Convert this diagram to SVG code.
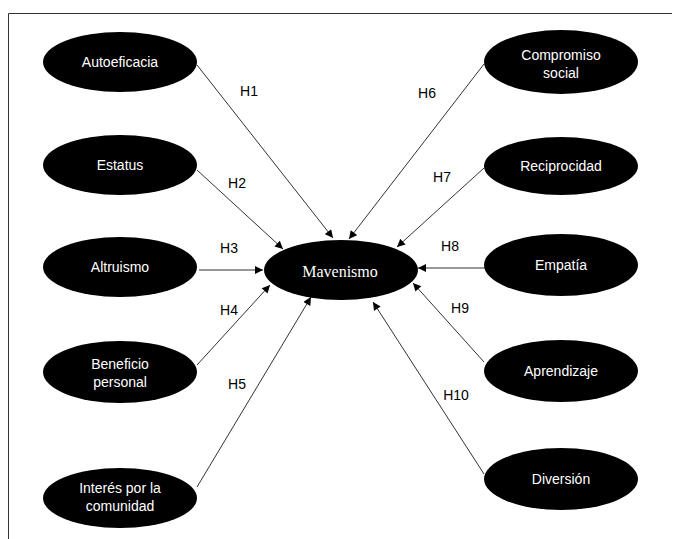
<svg xmlns="http://www.w3.org/2000/svg" width="676" height="539" viewBox="0 0 676 539">
<style>
.n{fill:#000}
.t{fill:#fff;font-family:"Liberation Sans",Arial,sans-serif;font-size:14px;text-anchor:middle;dominant-baseline:central}
.m{fill:#fff;font-family:"Liberation Serif","Times New Roman",serif;font-size:16px;text-anchor:middle;dominant-baseline:central}
.l{fill:#000;font-family:"Liberation Sans",Arial,sans-serif;font-size:14px;text-anchor:middle;dominant-baseline:central}
.c{stroke:#333;stroke-width:1;fill:none;marker-end:url(#ah)}
</style>
<defs>
<marker id="ah" viewBox="0 0 10 10" refX="10" refY="5" markerWidth="9" markerHeight="8" markerUnits="userSpaceOnUse" orient="auto">
<path d="M0,0 L10,5 L0,10 z" fill="#000"/>
</marker>
</defs>
<rect width="676" height="539" fill="#fff"/>
<g id="frame" stroke="#333" stroke-width="1">
<line x1="8.5" y1="13.5" x2="672" y2="13.5"/>
<line x1="8.5" y1="13.5" x2="8.5" y2="539"/>
</g>
<g id="connectors">
<line class="c" x1="197" y1="65" x2="333" y2="238"/>
<line class="c" x1="197" y1="170" x2="283" y2="249"/>
<line class="c" x1="199" y1="270" x2="263" y2="270"/>
<line class="c" x1="197" y1="365" x2="270" y2="285"/>
<line class="c" x1="197" y1="487" x2="311" y2="297"/>
<line class="c" x1="484" y1="64" x2="349" y2="239"/>
<line class="c" x1="484" y1="168" x2="397" y2="247"/>
<line class="c" x1="486" y1="268" x2="418" y2="268"/>
<line class="c" x1="484" y1="362" x2="413" y2="283"/>
<line class="c" x1="484" y1="474" x2="373" y2="302"/>
<text class="l" x="249" y="91">H1</text>
<text class="l" x="237" y="183">H2</text>
<text class="l" x="229" y="248">H3</text>
<text class="l" x="229" y="310">H4</text>
<text class="l" x="237" y="384">H5</text>
<text class="l" x="427" y="93">H6</text>
<text class="l" x="442" y="177">H7</text>
<text class="l" x="450" y="246">H8</text>
<text class="l" x="460" y="308">H9</text>
<text class="l" x="456" y="395">H10</text>
</g>
<g id="mavenismo"><ellipse class="n" cx="341" cy="270" rx="77" ry="30"/><text class="m" x="340" y="271">Mavenismo</text></g>
<g id="autoeficacia"><ellipse class="n" cx="120" cy="62" rx="77" ry="30"/><text class="t" x="120" y="62">Autoeficacia</text></g>
<g id="estatus"><ellipse class="n" cx="120" cy="165" rx="77" ry="30"/><text class="t" x="120" y="165">Estatus</text></g>
<g id="altruismo"><ellipse class="n" cx="120" cy="267" rx="77" ry="30"/><text class="t" x="120" y="267">Altruismo</text></g>
<g id="beneficio"><ellipse class="n" cx="120" cy="372" rx="77" ry="31"/><text class="t" x="120" y="364">Beneficio</text><text class="t" x="120" y="382">personal</text></g>
<g id="interes"><ellipse class="n" cx="120" cy="498" rx="77" ry="30"/><text class="t" x="120" y="488">Interés por la</text><text class="t" x="120" y="506">comunidad</text></g>
<g id="compromiso"><ellipse class="n" cx="561" cy="62" rx="77" ry="32"/><text class="t" x="561" y="55">Compromiso</text><text class="t" x="561" y="73">social</text></g>
<g id="reciprocidad"><ellipse class="n" cx="561" cy="166" rx="77" ry="29"/><text class="t" x="561" y="166">Reciprocidad</text></g>
<g id="empatia"><ellipse class="n" cx="561" cy="265" rx="77" ry="31"/><text class="t" x="561" y="265">Empatía</text></g>
<g id="aprendizaje"><ellipse class="n" cx="561" cy="371" rx="77" ry="31"/><text class="t" x="561" y="371">Aprendizaje</text></g>
<g id="diversion"><ellipse class="n" cx="561" cy="479" rx="77" ry="31"/><text class="t" x="561" y="479">Diversión</text></g>
</svg>
